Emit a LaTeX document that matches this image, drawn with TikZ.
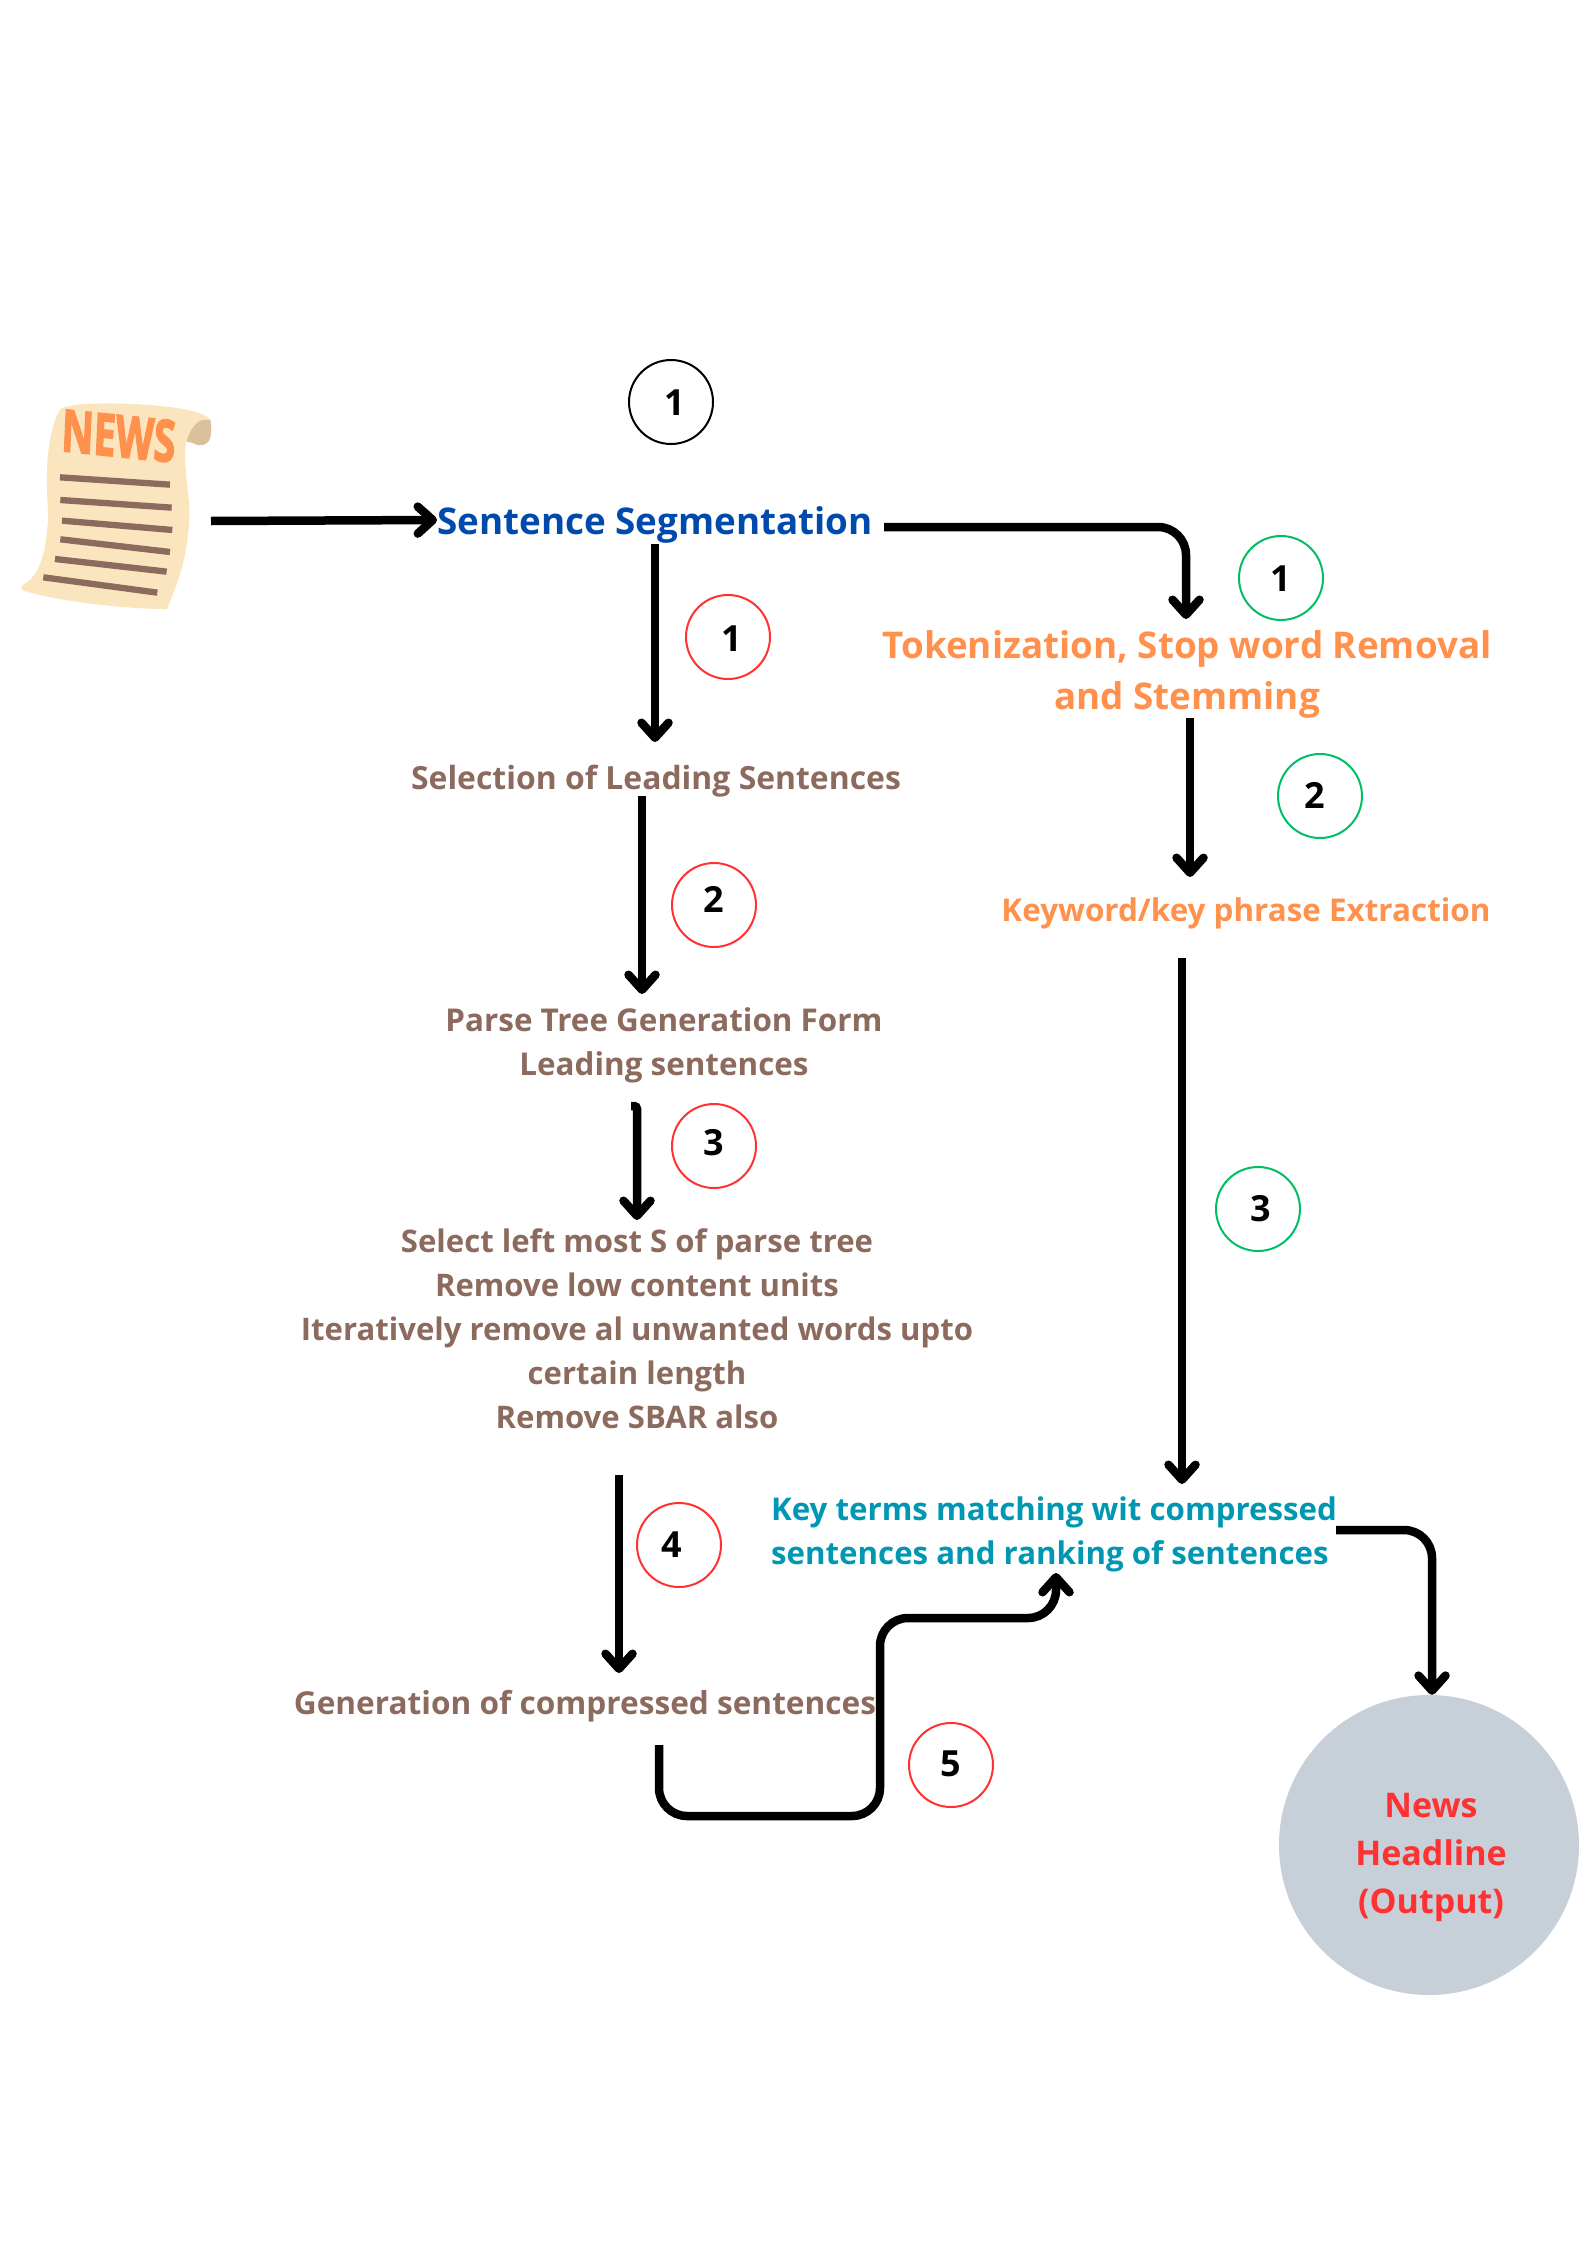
\documentclass[tikz,border=0pt]{standalone}
\usepackage{fontspec}
\setmainfont{Open Sans}
\usetikzlibrary{arrows.meta}
\definecolor{segblue}{HTML}{004AAD}
\definecolor{brownish}{HTML}{8C6A5D}
\definecolor{orangeish}{HTML}{FF914D}
\definecolor{tealish}{HTML}{0097B2}
\definecolor{redish}{HTML}{FF3131}
\definecolor{greenish}{HTML}{00BF63}
\definecolor{disc}{HTML}{C7CFD9}
\definecolor{paper}{HTML}{FAE5BE}
\definecolor{curl}{HTML}{D9C29B}
\tikzset{
 arr/.style={line width=8.5pt,draw=black,rounded corners=28pt,-{Straight Barb[length=15pt,width=27pt,round]}},
 ringr/.style={circle,draw=redish,line width=2pt,minimum size=84pt,inner sep=0pt},
 ringg/.style={circle,draw=greenish,line width=2pt,minimum size=84pt,inner sep=0pt},
 ringk/.style={circle,draw=black,line width=2pt,minimum size=84pt,inner sep=0pt},
 digit/.style={font=\bfseries\fontsize{36}{40}\selectfont,inner sep=0pt},
 brtext/.style={text=brownish,align=center,inner sep=0pt,font=\bfseries\fontsize{31.4}{44}\selectfont},
 ortext/.style={text=orangeish,align=center,inner sep=0pt},
}
\begin{document}
\begin{tikzpicture}[x=1pt,y=-1pt]
\useasboundingbox (0,0) rectangle (1587,2245);
% news icon
\begin{scope}[shift={(0,370)},x=0.3333pt,y=-0.3333pt]
\fill[curl] (560,215) .. controls (570,170) and (590,140) .. (632,150) .. controls (636,190) and (636,225) .. (600,226) .. controls (585,225) and (575,215) .. (560,215) -- cycle;
\fill[paper] (178,122) .. controls (190,100) and (300,98) .. (400,102) .. controls (480,106) and (560,115) .. (600,130) .. controls (615,136) and (625,142) .. (632,150) .. controls (600,140) and (572,165) .. (557,222) .. controls (550,300) and (570,370) .. (568,440) .. controls (565,560) and (530,650) .. (500,718) .. controls (380,715) and (200,700) .. (70,662) .. controls (60,655) and (65,645) .. (72,642) .. controls (130,610) and (140,520) .. (145,430) .. controls (135,320) and (140,190) .. (178,122) -- cycle;
\node[text=orangeish,font=\bfseries\fontsize{58}{58}\selectfont\addfontfeatures{FakeBold=3},xscale=0.68,rotate=-4,inner sep=0pt] (newsword) at (356,198) {NEWS};
\draw[brownish,line width=6.3pt] (180,322) -- (510,344) (181,390) -- (515,413) (186,452) -- (517,480) (181,508) -- (510,546) (165,567) -- (500,605) (130,622) -- (472,668);
\end{scope}
% text nodes
\node[text=segblue,inner sep=0pt,font=\bfseries\fontsize{36.8}{44}\selectfont] (seg) at (655,525) {Sentence Segmentation};
\node[brtext,font=\bfseries\fontsize{31.9}{44}\selectfont] (sel) at (656,781) {Selection of Leading Sentences};
\node[brtext] (parse) at (664,1045) {Parse Tree Generation Form\\Leading sentences};
\node[brtext,font=\bfseries\fontsize{31.1}{44}\selectfont] (select) at (637,1329) {Select left most S of parse tree\\Remove low content units\\Iteratively remove al unwanted words upto\\certain length\\Remove SBAR also};
\node[brtext,font=\bfseries\fontsize{31.6}{44}\selectfont] (gen) at (585,1706) {Generation of compressed sentences};
\node[ortext,font=\bfseries\fontsize{36.8}{51}\selectfont] (tok) at (1187,674) {Tokenization, Stop word Removal\\and Stemming};
\node[ortext,font=\bfseries\fontsize{31.4}{38}\selectfont] (key) at (1246,913) {Keyword/key phrase Extraction};
\node[text=tealish,align=left,inner sep=0pt,font=\bfseries\fontsize{31.25}{44}\selectfont] (match) at (1054,1534) {Key terms matching wit compressed\\sentences and ranking of sentences};
\node[circle,fill=disc,minimum size=300pt,inner sep=0pt] (out) at (1429,1845) {};
\node[text=redish,align=center,inner sep=0pt,font=\bfseries\fontsize{34}{48}\selectfont] (outtext) at (1431,1857) {News\\Headline\\(Output)};
% connectors
\coordinate (s1) at ([shift={(-444,-4)}]seg.center);
\draw[arr] (s1) -- ([yshift=5]seg.west);
\draw[arr] ([shift={(229,2)}]seg.center) -| ([shift={(-1,-55)}]tok.center);
\draw[arr] ([shift={(0,19)}]seg.center) -- ([shift={(-1,-39)}]sel.center);
\draw[arr] ([shift={(-14,15)}]sel.center) -- ([shift={(-22,-51)}]parse.center);
\draw[arr,rounded corners=3pt] ([shift={(-33,61)}]parse.center) -- ([shift={(-27,61)}]parse.center) -- ([shift={(0,-109)}]select.center);
\draw[arr] ([shift={(-18,146)}]select.center) -- ([shift={(34,-33)}]gen.center);
\draw[arr] ([shift={(74,39)}]gen.center) -- ++(0,71) -- ++(221,0) -- ++(0,-198) -- ++(176,0) -- ([shift={(2,39)}]match.center);
\draw[arr] ([shift={(282,-4)}]match.center) -| ([xshift=3]out.north);
\draw[arr] ([shift={(-64,45)}]key.center) -- ([shift={(128,-50)}]match.center);
\draw[arr] ([shift={(3,44)}]tok.center) -- ([shift={(-56,-36)}]key.center);
% rings and digits
\node[ringk] (k1) at (671,402) {}; \node[digit] (k1d) at (675,403) {1};
\node[ringr] (r1) at (728,637) {}; \node[digit] (r1d) at (732,639) {1};
\node[ringr] (r2) at (714,905) {}; \node[digit] (r2d) at (714,899) {2};
\node[ringr] (r3) at (714,1146) {}; \node[digit] (r3d) at (714,1143) {3};
\node[ringr] (r4) at (679,1545) {}; \node[digit] (r4d) at (672,1545) {4};
\node[ringr] (r5) at (951,1765) {}; \node[digit] (r5d) at (951,1764) {5};
\node[ringg] (g1) at (1281,578) {}; \node[digit] (g1d) at (1281,579) {1};
\node[ringg] (g2) at (1320,796) {}; \node[digit] (g2d) at (1315,795) {2};
\node[ringg] (g3) at (1258,1209) {}; \node[digit] (g3d) at (1261,1209) {3};
\end{tikzpicture}
\end{document}
